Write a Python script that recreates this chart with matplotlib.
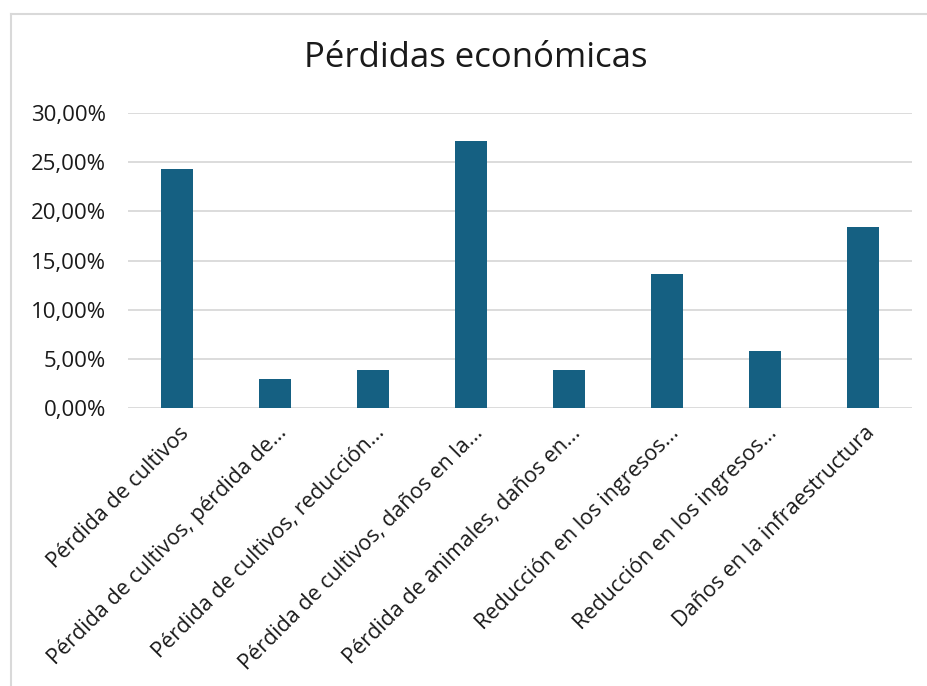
import matplotlib.pyplot as plt
import matplotlib.transforms as mtransforms
from matplotlib.lines import Line2D
from matplotlib.ticker import FuncFormatter

plt.rcParams['font.family'] = ['Open Sans', 'DejaVu Sans']

categorias = [
    "Pérdida de cultivos",
    "Pérdida de cultivos, pérdida de...",
    "Pérdida de cultivos, reducción...",
    "Pérdida de cultivos, daños en la...",
    "Pérdida de animales, daños en...",
    "Reducción en los ingresos...",
    "Reducción en los ingresos...",
    "Daños en la infraestructura",
]
porcentajes = [0.2427, 0.0291, 0.0388, 0.2718, 0.0388, 0.1359, 0.0583, 0.1845]
ticks_y = [0, 0.05, 0.10, 0.15, 0.20, 0.25, 0.30]

fig = plt.figure(figsize=(9.27, 6.86), dpi=100)
ax = fig.add_axes([128 / 927, 1 - 408 / 686, 784 / 927, 295 / 686])

# marco gris del gráfico: solo caen dentro los bordes izquierdo y superior
bx, by = 10.5 / 927, 1 - 14 / 686
fig.add_artist(Line2D([bx, bx], [0, by], color='#d9d9d9', linewidth=1.5))
fig.add_artist(Line2D([bx, 1], [by, by], color='#d9d9d9', linewidth=1.5))

x = range(len(categorias))
ax.bar(x, porcentajes, width=0.32, color='#156082', zorder=3)

ax.set_xlim(-0.5, len(categorias) - 0.5)
ax.set_ylim(0, 0.30)
ax.set_yticks(ticks_y)
ax.yaxis.set_major_formatter(FuncFormatter(lambda v, p: f"{v * 100:.2f}%".replace('.', ',')))
ax.grid(axis='y', color='#d9d9d9', linewidth=1.3, zorder=0)
for s in ax.spines.values():
    s.set_visible(False)
ax.tick_params(axis='y', length=0, labelsize=16, colors='#1a1a1a', pad=16)
ax.tick_params(axis='x', length=0, labelsize=15.5, colors='#1a1a1a')

ax.set_xticks(list(x))
ax.set_xticklabels(categorias, rotation=45, ha='right', va='center', rotation_mode='anchor')
offset = mtransforms.ScaledTranslation(9 / 100, -17 / 100, fig.dpi_scale_trans)
for lbl in ax.get_xticklabels():
    lbl.set_transform(lbl.get_transform() + offset)

fig.text(476 / 927, 1 - 58 / 686, "Pérdidas económicas", ha='center', va='center',
         fontsize=25, color='#1a1a1a')

fig.savefig('out.png', dpi=100)
